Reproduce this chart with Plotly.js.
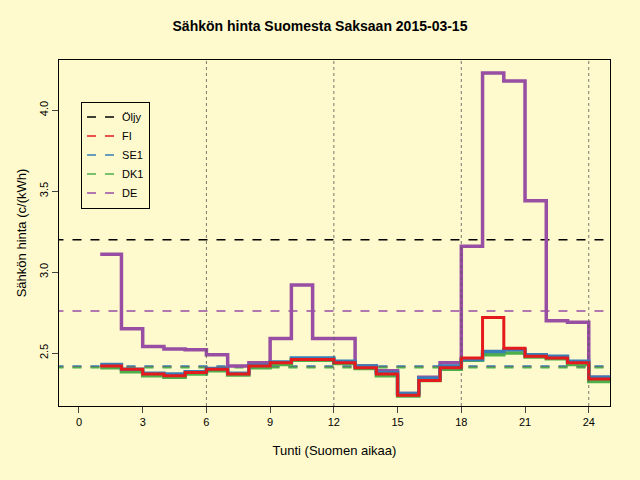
<!DOCTYPE html>
<html><head><meta charset="utf-8">
<script src="https://cdn.plot.ly/plotly-3.0.1.min.js"></script>
</head><body style="margin:0">
<div id="graph" style="width:640px;height:480px"></div>
<script>
var hours = [1,2,3,4,5,6,7,8,9,10,11,12,13,14,15,16,17,18,19,20,21,22,23,24,25];
var fi  = [2.42,2.40,2.37,2.36,2.38,2.40,2.37,2.42,2.44,2.46,2.46,2.44,2.41,2.37,2.24,2.33,2.41,2.47,2.72,2.53,2.48,2.47,2.44,2.34,2.34];
var se1 = [2.43,2.40,2.375,2.37,2.385,2.405,2.375,2.425,2.445,2.47,2.47,2.45,2.42,2.38,2.25,2.345,2.42,2.46,2.51,2.52,2.49,2.48,2.45,2.35,2.35];
var dk1 = [2.41,2.385,2.36,2.35,2.37,2.39,2.365,2.41,2.43,2.455,2.455,2.435,2.405,2.36,2.235,2.33,2.40,2.455,2.49,2.50,2.475,2.465,2.43,2.325,2.325];
var de  = [3.11,2.65,2.54,2.525,2.52,2.49,2.42,2.44,2.59,2.92,2.59,2.59,2.42,2.39,2.25,2.35,2.44,3.16,4.23,4.18,3.44,2.70,2.69,2.35,2.35];
var oil = 3.20, deAvg = 2.76, fiAvg = 2.415, se1Avg = 2.42, dk1Avg = 2.41;
var vlines = [6,12,18,24];

var data = [];
function hline(y, color, name, show) {
  data.push({type:'scatter', mode:'lines', x:[-2,27], y:[y,y], name:name, showlegend:show,
    line:{color:color, width:1.6, dash:'dash'}});
}
hline(oil, '#000000', 'Öljy', true);
hline(fiAvg, '#e41a1c', 'FI', true);
hline(se1Avg, '#377eb8', 'SE1', true);
hline(dk1Avg, '#4daf4a', 'DK1', true);
hline(deAvg, '#984ea3', 'DE', true);
function step(y, color, w) {
  data.push({type:'scatter', mode:'lines', x:hours, y:y, showlegend:false,
    line:{color:color, width:w, shape:'hv'}});
}
step(de, '#984ea3', 3.5);
step(dk1, '#4daf4a', 3.5);
step(se1, '#377eb8', 3.5);
step(fi, '#e41a1c', 3);

var shapes = vlines.map(function(v){
  return {type:'line', xref:'x', yref:'paper', x0:v, x1:v, y0:0, y1:1,
    line:{color:'#555', width:0.8, dash:'dot'}};
});

var layout = {
  width:640, height:480,
  paper_bgcolor:'#fffacd', plot_bgcolor:'#fffacd',
  font:{family:'Liberation Sans, Arial', size:11, color:'#000'},
  margin:{l:59, r:30, t:60, b:74},
  title:{text:'<b>Sähkön hinta Suomesta Saksaan 2015-03-15</b>', x:0.5, y:0.955, font:{size:14}},
  xaxis:{range:[-0.94,25], tickvals:[0,3,6,9,12,15,18,21,24], showgrid:false, zeroline:false,
    showline:true, mirror:true, linecolor:'#000', ticks:'outside', ticklen:6,
    title:{text:'Tunti (Suomen aikaa)', standoff:18}},
  yaxis:{range:[2.173,4.31], tickvals:[2.5,3.0,3.5,4.0], ticktext:['2.5','3.0','3.5','4.0'],
    tickangle:-90, showgrid:false, zeroline:false,
    showline:true, mirror:true, linecolor:'#000', ticks:'outside', ticklen:6,
    title:{text:'Sähkön hinta (c/(kWh)', standoff:8}},
  legend:{x:0.04, y:0.88, xanchor:'left', yanchor:'top', bgcolor:'#fffacd',
    bordercolor:'#000', borderwidth:1, font:{size:11}, tracegroupgap:0},
  shapes:shapes
};
Plotly.newPlot('graph', data, layout, {displayModeBar:false});
</script>
</body></html>
